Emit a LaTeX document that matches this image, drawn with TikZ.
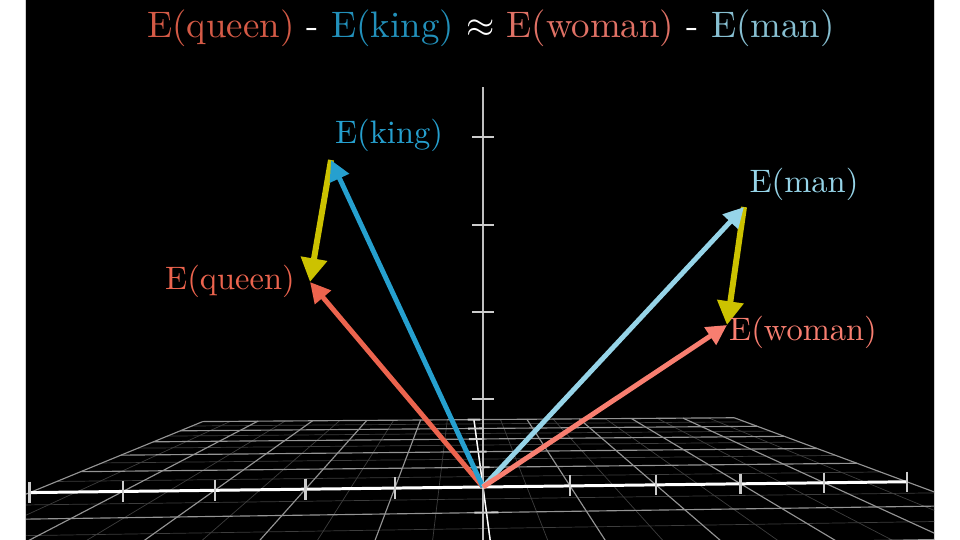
\documentclass[tikz,border=0pt]{standalone}
\usepackage{fontspec}
\usetikzlibrary{arrows.meta}

% 10pt design size, scaled up like the original
\newfontfamily\cmten{lmroman10-regular}[Extension=.otf]

\definecolor{queenred}{RGB}{236,100,78}
\definecolor{kingblue}{RGB}{38,160,207}
\definecolor{womanred}{RGB}{248,126,112}
\definecolor{manblue}{RGB}{150,212,232}
\definecolor{shiftyellow}{RGB}{204,194,0}

\begin{document}
\begin{tikzpicture}[x=0.02cm, y=-0.02cm,
  % floor plane (X,Z) seen in perspective, in pixel units
  declare function={
    dn(\a,\b)=0.00673*\a+0.13*\b+1;
    px(\a,\b)=(90.86*\a+59.8*\b+483)/dn(\a,\b);
    py(\a,\b)=(2.194*\a+41.08*\b+487)/dn(\a,\b);},
  gridmain/.style={draw=white!58!black, line width=0.65pt},
  gridfine/.style={draw=white!24!black, line width=0.4pt},
  xaxis/.style={draw=white, line width=1.7pt},
  yaxis/.style={draw=white!75!black, line width=1.1pt},
  tickmark/.style={draw=white!80!black, line width=1.4pt},
  vec/.style={line width=2.8pt, -{Triangle[length=11.5pt, width=11.5pt]}},
  diff/.style={draw=shiftyellow, line width=3.4pt, -{Triangle[length=13.5pt, width=14.5pt]}},
  lbl/.style={font=\cmten\fontsize{18.5}{22}\selectfont, inner sep=0pt},
  eqn/.style={font=\cmten\fontsize{21}{25}\selectfont, inner sep=0pt, text=white}]

  \useasboundingbox (0,0) rectangle (960,540);

  % Page and black panel
  \fill[white] (0,0) rectangle (960,540);
  \fill[black] (26,0) rectangle (934,540);
  \draw[white!82!black, line width=0.8pt] (25.5,0) -- (25.5,540);
  \draw[white!82!black, line width=0.8pt] (934.5,0) -- (934.5,540);

  \begin{scope}
    \clip (26,0) rectangle (934,540);

    % Floor grid: fine lines first, then unit lines
    \foreach \g in {-4.5,-3.5,...,4.5}
      \draw[gridfine] ({px(\g,-3)},{py(\g,-3)}) -- ({px(\g,5)},{py(\g,5)});
    \foreach \g in {-2.5,-1.5,...,4.5}
      \draw[gridfine] ({px(-5,\g)},{py(-5,\g)}) -- ({px(5,\g)},{py(5,\g)});
    \foreach \g in {-5,...,5}
      \draw[gridmain] ({px(\g,-3)},{py(\g,-3)}) -- ({px(\g,5)},{py(\g,5)});
    \foreach \g in {-3,...,5}
      \draw[gridmain] ({px(-5,\g)},{py(-5,\g)}) -- ({px(5,\g)},{py(5,\g)});

    % Depth axis with its ticks
    \draw[white, line width=0.8pt] ({px(0,5)},{py(0,5)}) -- ({px(0,-2.5)},{py(0,-2.5)});
    \foreach \z in {-1,1,2,3,4,5}
      \draw[tickmark, line width=1.1pt] ({px(-0.12,\z)},{py(-0.12,\z)}) -- ({px(0.12,\z)},{py(0.12,\z)});

    % Vertical axis
    \draw[yaxis] (483,540) -- (483,87);
    \foreach \t in {399,312,225,137}
      \draw[tickmark, line width=1.1pt] (472,\t) -- (494,\t);

    % Horizontal axis
    \draw[xaxis] ({px(-5,0)},{py(-5,0)}) -- ({px(5,0)},{py(5,0)});
    \foreach \x in {-5,...,-1,1,2,...,5}
      \draw[tickmark] ({px(\x,0)},{py(\x,0)-10.5/dn(\x,0)}) -- ({px(\x,0)},{py(\x,0)+10.5/dn(\x,0)});
  \end{scope}

  % Origin and vector tips
  \coordinate (O) at (483,487);
  \coordinate (king) at (331,160);
  \coordinate (queen) at (310,282);
  \coordinate (man) at (744,207);
  \coordinate (woman) at (727,325);

  % Differences
  \draw[diff] (king) -- (queen);
  \draw[diff] (man) -- (woman);

  % Embeddings
  \draw[vec, draw=queenred, fill=queenred] (O) -- (queen);
  \draw[vec, draw=kingblue, fill=kingblue] (O) -- (king);
  \draw[vec, draw=manblue, fill=manblue] (O) -- (man);
  \draw[vec, draw=womanred, fill=womanred] (O) -- (woman);

  % Labels
  \node[lbl, text=queenred] (queenlbl) at (230,281) {E(queen)};
  \node[lbl, text=kingblue] (kinglbl) at (389,135) {E(king)};
  \node[lbl, text=manblue] (manlbl) at (804,184) {E(man)};
  \node[lbl, text=womanred] (womanlbl) at (803,332) {E(woman)};

  % Title
  \node[eqn] (title) at (491,28) {\textcolor{queenred!90!black}{E(queen)} - \textcolor{kingblue!90!black}{E(king)} $\approx$ \textcolor{womanred!90!black}{E(woman)} - \textcolor{manblue!90!black}{E(man)}};

\end{tikzpicture}
\end{document}
